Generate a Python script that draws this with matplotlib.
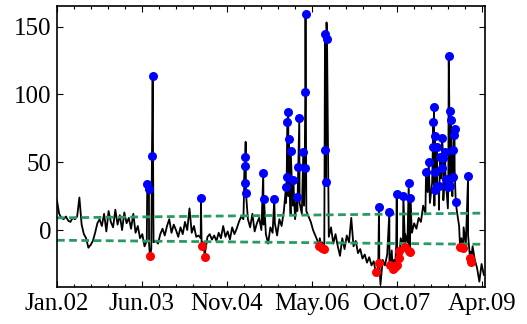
import numpy as np
import matplotlib
matplotlib.use("Agg")
import matplotlib.pyplot as plt
from matplotlib.ticker import FixedLocator

plt.rcParams['font.family'] = ['Liberation Serif', 'DejaVu Serif']

# fortnightly index values from Jan 2002
base_vals = [
    22, 12, 9, 8, 10, 7, 6, 9, 8, 10,
    24, 4, -3, -6, -13, -11, -8, -2, 5, 8,
    3, 12, -1, 14, 6, 2, 15, 4, 11, 0,
    13, 5, 9, 1, 12, -2, 3, -6, -3, -12,
    -8, -10, -14, -9, -8, -10, -3, 1, -4, 3,
    8, -2, 4, 0, -5, 2, -3, 6, 0, 16,
    -2, 3, -5, -4, -6, -9, -16, -5, -3, -7,
    -4, -8, -2, -6, 3, -5, -1, -7, 2, -3,
    1, 6, 10, 8, 65, 8, 2, 12, -1, 5,
    9, 0, 4, -3, -10, 2, -2, 5, -4, 8,
    3, 14, 20, 25, 12, 18, 8, 14, 20, 12,
    18, 14, 10, 6, 0, -4, -8, -6, -9, -10,
    153, -5, 2, -10, -3, -12, -19, -6, -14, -4,
    -9, 9, -12, -8, -17, -14, -21, -18, -24, -20,
    -26, -23, -30, -27, -40, -22, -26, -18, -24, -15,
    -22, -12, -18, -6, -12, -3, -9, 2, -2, 5,
    1, 9, 6, 18, 12, 28, 20, 35, 18, 30,
    15, 38, 22, 34, 16, 40, 25, 45, 14, 3,
    -6, 2, -10, -4, -16, -12, -22, -28, -38, -25,
    -33,
]
base_t = 2002 + np.arange(len(base_vals)) * 14 / 365.25

# upward exceedances
blue_t = [2003.541, 2003.570, 2003.621, 2003.633, 2004.457,
          2005.203, 2005.204, 2005.213, 2005.225, 2005.520, 2005.532, 2005.708,
          2005.908, 2005.920, 2005.930, 2005.947, 2005.954, 2005.988, 2006.032,
          2006.090, 2006.118, 2006.135, 2006.203, 2006.227, 2006.237, 2006.241,
          2006.573, 2006.578, 2006.590, 2006.608,
          2007.495, 2007.671, 2007.797, 2007.910, 2008.002, 2008.029,
          2008.297, 2008.343, 2008.421, 2008.422, 2008.433, 2008.445, 2008.451,
          2008.456, 2008.479, 2008.480, 2008.514, 2008.536, 2008.565, 2008.570,
          2008.592, 2008.621, 2008.633, 2008.677, 2008.684, 2008.711, 2008.712,
          2008.724, 2008.753, 2008.763, 2008.770, 2008.783, 2008.804, 2009.014]
blue_v = [33.7, 30.0, 54.8, 113.7, 23.6,
          47.2, 34.7, 54.1, 27.3, 41.8, 23.1, 23.1,
          32.0, 39.4, 79.5, 86.8, 66.9, 58.5, 36.9,
          24.1, 46.7, 82.4, 57.8, 45.5, 102.0, 159.4,
          144.4, 59.3, 35.4, 140.7,
          16.7, 13.0, 26.6, 25.3, 35.0, 23.4,
          42.8, 50.0, 80.0, 61.5, 91.0, 42.5, 69.4,
          29.5, 61.5, 32.5, 32.7, 54.0, 46.0, 68.0,
          52.9, 57.8, 37.4, 32.0, 128.4, 88.0, 32.5,
          81.0, 59.0, 39.4, 70.0, 74.5, 20.5, 39.5]

# downward exceedances
red_t = [2003.587, 2004.469, 2004.526,
         2006.476, 2006.514, 2006.551,
         2007.439, 2007.500, 2007.683, 2007.729, 2007.768, 2007.807,
         2007.828, 2007.841, 2007.939, 2008.012, 2008.024,
         2008.877, 2008.933, 2009.048, 2009.065]
red_v = [-19.2, -11.6, -19.7,
         -11.6, -13.0, -13.8,
         -31.2, -24.6, -25.8, -29.0, -27.0, -25.8,
         -15.5, -20.9, -12.8, -15.5, -16.0,
         -12.3, -13.5, -20.9, -23.4]

# threshold band
band_t = [2002.0, 2009.3]
band_hi = [9.0, 12.5]
band_lo = [-7.5, -10.5]

tick_pos = [2002.0, 2003.45, 2004.9, 2006.35, 2007.8, 2009.25]
tick_lab = ['Jan.02', 'Jun.03', 'Nov.04', 'May.06', 'Oct.07', 'Apr.09']

t_all = np.concatenate([base_t, blue_t, red_t])
v_all = np.concatenate([base_vals, blue_v, red_v])
order = np.argsort(t_all, kind='stable')

fig = plt.figure(figsize=(5.27, 3.24), dpi=100)
ax = fig.add_axes([0.108, 0.114, 0.812, 0.867])

ax.plot(t_all[order], v_all[order], color='black', lw=1.3, zorder=1)
ax.plot(band_t, band_hi, color='#2A9A64', lw=2.0, ls=(0, (2.8, 1.6)), zorder=2)
ax.plot(band_t, band_lo, color='#2A9A64', lw=2.0, ls=(0, (2.8, 1.6)), zorder=2)
ax.plot(blue_t, blue_v, 'o', color='blue', ms=6.5, mec='none', zorder=3)
ax.plot(red_t, red_v, 'o', color='red', ms=6.5, mec='none', zorder=3)

ax.set_xlim(2002.0, 2009.3)
ax.set_ylim(-42, 165)
ax.set_xticks(tick_pos)
ax.set_xticklabels(tick_lab)
ax.xaxis.set_minor_locator(FixedLocator(np.arange(2002.0, 2009.3, 0.29)))
ax.set_yticks([0, 50, 100, 150])

ax.tick_params(which='both', direction='in', top=True, right=True, width=0.8)
ax.tick_params(which='major', length=4, labelsize=18, pad=4)
ax.tick_params(which='minor', length=2.5)
for sp in ax.spines.values():
    sp.set_linewidth(1.2)

fig.savefig('out.png', dpi=100)
